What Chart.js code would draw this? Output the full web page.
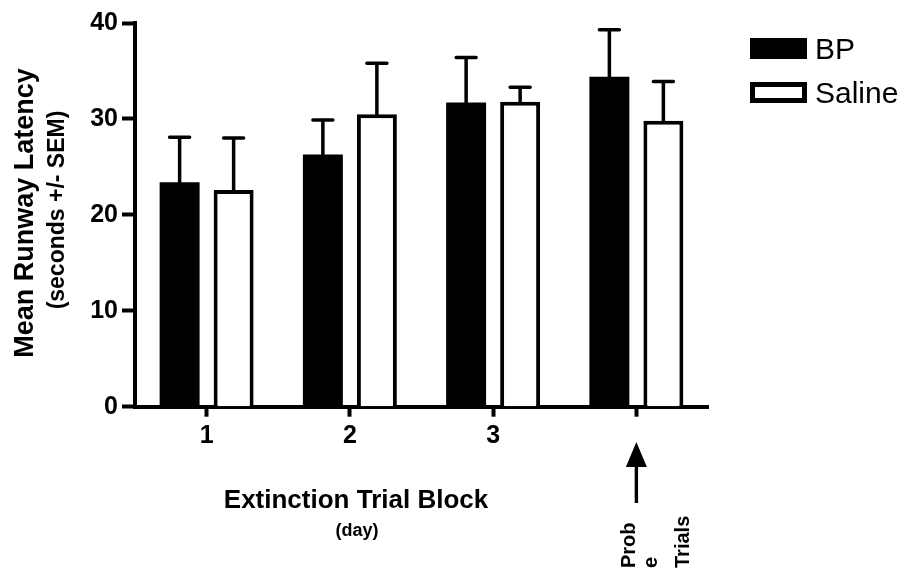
<!DOCTYPE html>
<html>
<head>
<meta charset="utf-8">
<title>Mean Runway Latency</title>
<script src="https://cdn.jsdelivr.net/npm/chart.js@4.4.1/dist/chart.umd.min.js"></script>
<style>
  html, body { margin: 0; padding: 0; background: #fff; }
  #wrap { width: 904px; height: 573px; }
</style>
</head>
<body>
<div id="wrap"><canvas id="latencyChart" width="904" height="573"></canvas></div>
<script>
// Extinction blocks (the 4th slot is the probe trials, labelled below the axis)
const blocks = ["1", "2", "3", ""];
const bpMeans = [23.4, 26.3, 31.7, 34.4];
const bpSem = [4.7, 3.6, 4.7, 4.9];
const salineMeans = [22.6, 30.5, 31.8, 29.8];
const salineSem = [5.4, 5.3, 1.5, 4.1];
const yTicks = [0, 10, 20, 30, 40];

const FONT = "'Liberation Sans', Arial, Helvetica, sans-serif";

// upper SEM whiskers on top of each bar
const errorBars = {
  id: "errorBars",
  afterDatasetsDraw(chart) {
    const ctx = chart.ctx;
    const yScale = chart.scales.y;
    ctx.save();
    ctx.strokeStyle = "#000";
    ctx.lineWidth = 3.5;
    ctx.lineCap = "round";
    chart.data.datasets.forEach((ds, i) => {
      const meta = chart.getDatasetMeta(i);
      meta.data.forEach((bar, j) => {
        const top = yScale.getPixelForValue(ds.data[j] + ds.sem[j]);
        ctx.beginPath();
        ctx.moveTo(bar.x, bar.y);
        ctx.lineTo(bar.x, top);
        ctx.moveTo(bar.x - 10, top);
        ctx.lineTo(bar.x + 10, top);
        ctx.stroke();
      });
    });
    ctx.restore();
  }
};

// axis titles, legend and the probe trial marker
const decorations = {
  id: "decorations",
  afterDraw(chart) {
    const ctx = chart.ctx;
    ctx.save();
    ctx.fillStyle = "#000";

    // y axis title, two lines
    ctx.save();
    ctx.translate(33, 213);
    ctx.rotate(-Math.PI / 2);
    ctx.textAlign = "center";
    ctx.textBaseline = "alphabetic";
    ctx.font = "bold 27px " + FONT;
    ctx.fillText("Mean Runway Latency", 0, 0);
    ctx.font = "bold 23px " + FONT;
    ctx.fillText("(seconds +/- SEM)", 3, 31);
    ctx.restore();

    // x axis title
    ctx.textAlign = "center";
    ctx.textBaseline = "alphabetic";
    ctx.font = "bold 26px " + FONT;
    ctx.fillText("Extinction Trial Block", 356, 508);
    ctx.font = "bold 18px " + FONT;
    ctx.fillText("(day)", 357, 536);

    // legend
    const boxX = 750, boxW = 57, boxH = 21;
    const rows = [38, 82];
    ctx.font = "30px " + FONT;
    ctx.textAlign = "left";
    chart.data.datasets.forEach((ds, i) => {
      const y = rows[i];
      ctx.fillStyle = ds.borderColor;
      ctx.fillRect(boxX, y, boxW, boxH);
      if (ds.backgroundColor !== ds.borderColor) {
        ctx.fillStyle = ds.backgroundColor;
        ctx.fillRect(boxX + 5, y + 5, boxW - 10, boxH - 10);
      }
      ctx.fillStyle = "#000";
      ctx.fillText(ds.label, 815, y + 21);
    });

    // arrow pointing at the probe trial block
    const ax = chart.scales.x.getPixelForValue(3);
    ctx.fillStyle = "#000";
    ctx.beginPath();
    ctx.moveTo(ax, 442);
    ctx.lineTo(ax - 10.5, 467);
    ctx.lineTo(ax + 10.5, 467);
    ctx.closePath();
    ctx.fill();
    ctx.fillRect(ax - 1.7, 465, 3.4, 38);

    // "Probe Trials", rotated, wrapped as in the original figure
    ctx.font = "bold 20px " + FONT;
    ctx.textAlign = "left";
    [["Prob", 635], ["e", 657], ["Trials", 689]].forEach(([t, x]) => {
      ctx.save();
      ctx.translate(x, 568);
      ctx.rotate(-Math.PI / 2);
      ctx.fillText(t, 0, 0);
      ctx.restore();
    });
    ctx.restore();
  }
};

const ctx = document.getElementById("latencyChart").getContext("2d");
new Chart(ctx, {
  type: "bar",
  data: {
    labels: blocks,
    datasets: [
      {
        label: "BP",
        data: bpMeans,
        sem: bpSem,
        backgroundColor: "#000000",
        borderColor: "#000000",
        borderWidth: 0
      },
      {
        label: "Saline",
        data: salineMeans,
        sem: salineSem,
        backgroundColor: "#ffffff",
        borderColor: "#000000",
        borderWidth: 4
      }
    ]
  },
  options: {
    responsive: false,
    animation: false,
    categoryPercentage: 0.754,
    barPercentage: 0.74,
    layout: { padding: { left: 0, top: 23, right: 196, bottom: 0 } },
    plugins: {
      legend: { display: false },
      tooltip: { enabled: false }
    },
    scales: {
      x: {
        afterFit(scale) { scale.height = 166.3; },
        grid: {
          offset: false,
          drawOnChartArea: false,
          drawTicks: true,
          tickLength: 10,
          tickWidth: 4,
          tickColor: "#000"
        },
        border: { display: true, width: 4, color: "#000" },
        ticks: {
          color: "#000",
          padding: 4,
          font: { family: FONT, size: 25, weight: "bold" }
        }
      },
      y: {
        min: 0,
        max: 40,
        afterFit(scale) { scale.width = 135; },
        afterBuildTicks(scale) { scale.ticks = yTicks.map(v => ({ value: v })); },
        grid: {
          drawOnChartArea: false,
          drawTicks: true,
          tickLength: 13,
          tickWidth: 4,
          tickColor: "#000"
        },
        border: { display: true, width: 4, color: "#000" },
        ticks: {
          color: "#000",
          padding: 4,
          font: { family: FONT, size: 25, weight: "bold" }
        }
      }
    }
  },
  plugins: [errorBars, decorations]
});
</script>
</body>
</html>
